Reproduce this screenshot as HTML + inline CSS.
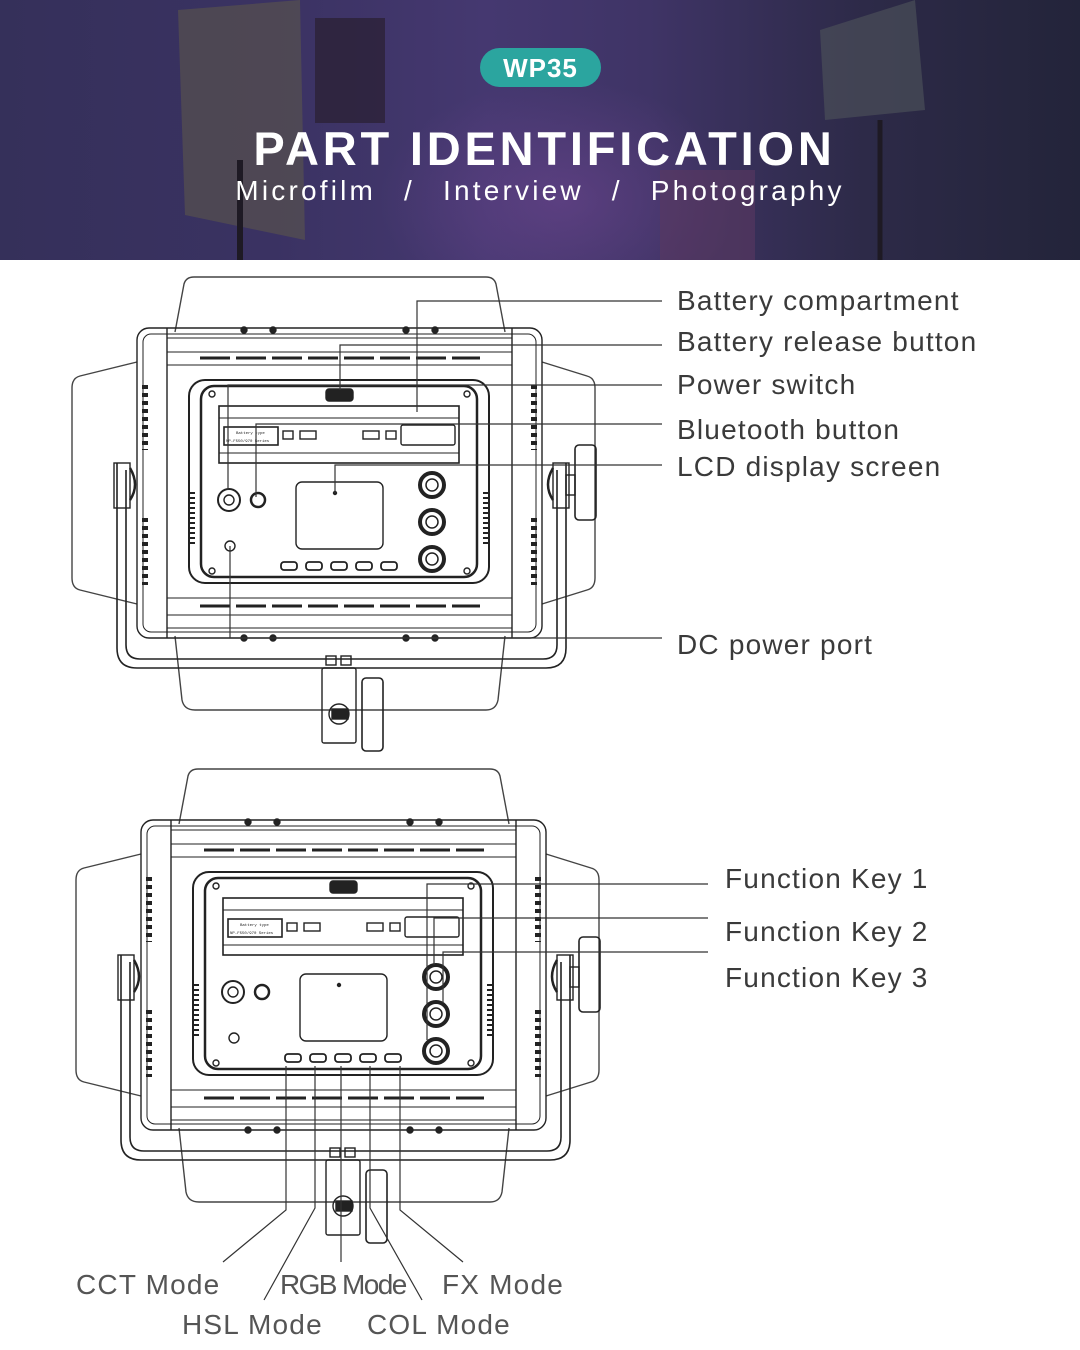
<!DOCTYPE html>
<html><head><meta charset="utf-8"><style>
html,body{margin:0;padding:0;background:#fff}
body{width:1080px;height:1350px;overflow:hidden;position:relative;font-family:"Liberation Sans",sans-serif}
.hdr{position:absolute;left:0;top:0;width:1080px;height:260px;background:linear-gradient(90deg,#35305a 0%,#3a3262 25%,#453870 45%,#3f3466 60%,#2d2a48 80%,#23243a 100%);overflow:hidden}
.lbl{position:absolute;font-size:28px;color:#3a3a3a;white-space:nowrap;letter-spacing:1.2px}
</style></head><body>
<div class="hdr">
<svg width="1080" height="260" style="position:absolute;left:0;top:0">
<defs><radialGradient id="g1" cx="0.5" cy="0.5" r="0.5"><stop offset="0" stop-color="#7a4a9a" stop-opacity="0.45"/><stop offset="1" stop-color="#7a4a9a" stop-opacity="0"/></radialGradient></defs>
<ellipse cx="560" cy="200" rx="180" ry="120" fill="url(#g1)"/>
<polygon points="178,10 300,0 305,240 185,215" fill="#5e5a48" opacity="0.55"/>
<rect x="315" y="18" width="70" height="105" fill="#2a2030" opacity="0.7"/>
<polygon points="820,30 915,0 925,110 825,120" fill="#4a4e58" opacity="0.7"/>
<rect x="660" y="170" width="95" height="90" fill="#5a3860" opacity="0.6"/>
<line x1="240" y1="160" x2="240" y2="260" stroke="#1e1a24" stroke-width="6"/>
<line x1="880" y1="120" x2="880" y2="260" stroke="#1e1a24" stroke-width="5"/>
</svg>
<div style="position:absolute;left:480px;top:48px;width:121px;height:39px;border-radius:20px;background:#2ba59f;color:#fff;font-size:26px;font-weight:bold;text-align:center;line-height:40px;letter-spacing:1px">WP35</div>
<div style="position:absolute;left:0;width:1089px;top:121px;text-align:center;color:#fff;font-size:47px;font-weight:bold;letter-spacing:3.8px">PART IDENTIFICATION</div>
<div style="position:absolute;left:0;width:1080px;top:175px;text-align:center;color:#fff;font-size:28px;letter-spacing:3.2px;word-spacing:3px">Microfilm &nbsp;/ &nbsp;Interview &nbsp;/ &nbsp;Photography</div>
</div>

<svg width="1080" height="1350" style="position:absolute;left:0;top:0" fill="none" stroke="#222" stroke-width="1.4">
<defs>
<g id="dev">
 <path d="M175,332 L184,284 Q186,277 194,277 L486,277 Q494,277 496,284 L505,332" stroke="#444"/>
 <path d="M137,362 L80,376 Q72,378 72,388 L72,578 Q72,588 80,590 L137,604" stroke="#444"/>
 <path d="M542,362 L587,376 Q595,378 595,388 L595,578 Q595,588 587,590 L542,604" stroke="#444"/>
 <path d="M175,636 L182,700 Q184,710 195,710 L486,710 Q496,710 498,700 L505,636" stroke="#444"/>
 <rect x="137" y="328" width="405" height="310" rx="12"/>
 <rect x="143" y="334" width="393" height="298" rx="8" stroke-width="1"/>
 <line x1="167" y1="328" x2="167" y2="638"/>
 <line x1="512" y1="328" x2="512" y2="638"/>
 <line x1="167" y1="338" x2="512" y2="338" stroke-width="1"/>
 <line x1="167" y1="628" x2="512" y2="628" stroke-width="1"/>
 <line x1="167" y1="352" x2="512" y2="352" stroke-width="1"/>
 <line x1="167" y1="365" x2="512" y2="365" stroke-width="1"/>
 <line x1="200" y1="358" x2="480" y2="358" stroke-width="3" stroke-dasharray="30,6"/>
 <line x1="167" y1="598" x2="512" y2="598" stroke-width="1"/>
 <line x1="167" y1="615" x2="512" y2="615" stroke-width="1"/>
 <line x1="200" y1="606" x2="480" y2="606" stroke-width="3" stroke-dasharray="30,6"/>
 <line x1="145" y1="385" x2="145" y2="450" stroke-width="6" stroke-dasharray="4,4"/>
 <line x1="145" y1="518" x2="145" y2="585" stroke-width="6" stroke-dasharray="4,4"/>
 <line x1="534" y1="385" x2="534" y2="450" stroke-width="6" stroke-dasharray="4,4"/>
 <line x1="534" y1="518" x2="534" y2="585" stroke-width="6" stroke-dasharray="4,4"/>
 <circle cx="244" cy="330" r="3" fill="#222"/><circle cx="273" cy="330" r="3" fill="#222"/>
 <circle cx="406" cy="330" r="3" fill="#222"/><circle cx="435" cy="330" r="3" fill="#222"/>
 <circle cx="244" cy="638" r="3" fill="#222"/><circle cx="273" cy="638" r="3" fill="#222"/>
 <circle cx="406" cy="638" r="3" fill="#222"/><circle cx="435" cy="638" r="3" fill="#222"/>
 <rect x="189" y="380" width="300" height="203" rx="16" stroke-width="2"/>
 <rect x="201" y="386" width="276" height="191" rx="13" stroke-width="2.5"/>
 <line x1="192" y1="492" x2="192" y2="545" stroke-width="6" stroke-dasharray="2,3"/>
 <line x1="486" y1="492" x2="486" y2="545" stroke-width="6" stroke-dasharray="2,3"/>
 <circle cx="212" cy="394" r="3"/><circle cx="467" cy="394" r="3"/>
 <circle cx="212" cy="571" r="3"/><circle cx="467" cy="571" r="3"/>
 <rect x="326" y="389" width="27" height="12" rx="3" fill="#222"/>
 <rect x="219" y="406" width="240" height="57" stroke-width="1.6"/>
 <line x1="219" y1="418" x2="459" y2="418" stroke-width="1"/>
 <line x1="219" y1="453" x2="459" y2="453" stroke-width="1"/>
 <rect x="224" y="427" width="54" height="18" stroke-width="1.6"/>
 <text x="236" y="434" font-size="4" fill="#222" stroke="none" font-family="Liberation Mono">Battery type</text>
 <text x="226" y="442" font-size="4" fill="#222" stroke="none" font-family="Liberation Mono">NP-F550/970 Series</text>
 <rect x="401" y="425" width="54" height="20" rx="2"/>
 <rect x="283" y="431" width="10" height="8"/><rect x="300" y="431" width="16" height="8"/>
 <rect x="363" y="431" width="16" height="8"/><rect x="386" y="431" width="10" height="8"/>
 <rect x="296" y="482" width="87" height="67" rx="6"/>
 <circle cx="335" cy="493" r="1.5" fill="#222"/>
 <circle cx="229" cy="500" r="11" stroke-width="2"/><circle cx="229" cy="500" r="5"/>
 <circle cx="258" cy="500" r="7" stroke-width="2.5"/>
 <circle cx="230" cy="546" r="5"/>
 <g stroke-width="1.8">
 <rect x="281" y="562" width="16" height="8" rx="3"/><rect x="306" y="562" width="16" height="8" rx="3"/>
 <rect x="331" y="562" width="16" height="8" rx="3"/><rect x="356" y="562" width="16" height="8" rx="3"/>
 <rect x="381" y="562" width="16" height="8" rx="3"/>
 </g>
 <g stroke-width="4"><circle cx="432" cy="485" r="12"/><circle cx="432" cy="522" r="12"/><circle cx="432" cy="559" r="12"/></g>
 <g stroke-width="1.5"><circle cx="432" cy="485" r="6"/><circle cx="432" cy="522" r="6"/><circle cx="432" cy="559" r="6"/></g>
 <path d="M117,463 L117,648 Q117,668 137,668 L546,668 Q566,668 566,648 L566,463" stroke-width="1.6"/>
 <path d="M126,470 L126,645 Q126,659 140,659 L543,659 Q557,659 557,645 L557,470" stroke-width="1.6"/>
 <rect x="114" y="463" width="16" height="45"/>
 <rect x="553" y="463" width="16" height="45"/>
 <path d="M130,468 Q140,485 130,500" stroke-width="2.5"/>
 <path d="M553,468 Q543,485 553,500" stroke-width="2.5"/>
 <rect x="575" y="445" width="21" height="75" rx="4" stroke-width="1.6"/>
 <rect x="566" y="475" width="9" height="20"/>
 <rect x="326" y="656" width="10" height="9"/><rect x="341" y="656" width="10" height="9"/>
 <rect x="322" y="668" width="34" height="75" rx="2"/>
 <circle cx="339" cy="714" r="10"/><rect x="332" y="709" width="16" height="10" fill="#222"/>
 <rect x="362" y="678" width="21" height="73" rx="4" stroke-width="1.6"/>
</g>
</defs>
<use href="#dev"/>
<use href="#dev" transform="translate(4,492)"/>

<g stroke="#333" stroke-width="1.2">
 <polyline points="417,412 417,301 662,301"/>
 <polyline points="340,390 340,345 662,345"/>
 <polyline points="228,490 228,385 662,385"/>
 <polyline points="256,497 256,424 662,424"/>
 <polyline points="335,493 335,465 662,465"/>
 <polyline points="230,546 230,638 662,638"/>
 <polyline points="427,1040 427,884 708,884"/>
 <polyline points="434,965 434,918 708,918"/>
 <polyline points="443,1003 443,952 708,952"/>
 <polyline points="286,1066 286,1210 223,1262"/>
 <polyline points="315,1066 315,1208 264,1300"/>
 <polyline points="341,1066 341,1262"/>
 <polyline points="370,1066 370,1208 422,1300"/>
 <polyline points="400,1066 400,1210 463,1262"/>
</g>
</svg>

<div class="lbl" style="left:677px;top:285px">Battery compartment</div>
<div class="lbl" style="left:677px;top:326px">Battery release button</div>
<div class="lbl" style="left:677px;top:369px">Power switch</div>
<div class="lbl" style="left:677px;top:414px">Bluetooth button</div>
<div class="lbl" style="left:677px;top:451px">LCD display screen</div>
<div class="lbl" style="left:677px;top:629px">DC power port</div>
<div class="lbl" style="left:725px;top:863px">Function Key 1</div>
<div class="lbl" style="left:725px;top:916px">Function Key 2</div>
<div class="lbl" style="left:725px;top:962px">Function Key 3</div>
<div class="lbl" style="left:76px;top:1269px;color:#555">CCT Mode</div>
<div class="lbl" style="left:280px;top:1269px;color:#555;letter-spacing:-1.6px">RGB Mode</div>
<div class="lbl" style="left:442px;top:1269px;color:#555">FX Mode</div>
<div class="lbl" style="left:182px;top:1309px;color:#555">HSL Mode</div>
<div class="lbl" style="left:367px;top:1309px;color:#555">COL Mode</div>
</body></html>
